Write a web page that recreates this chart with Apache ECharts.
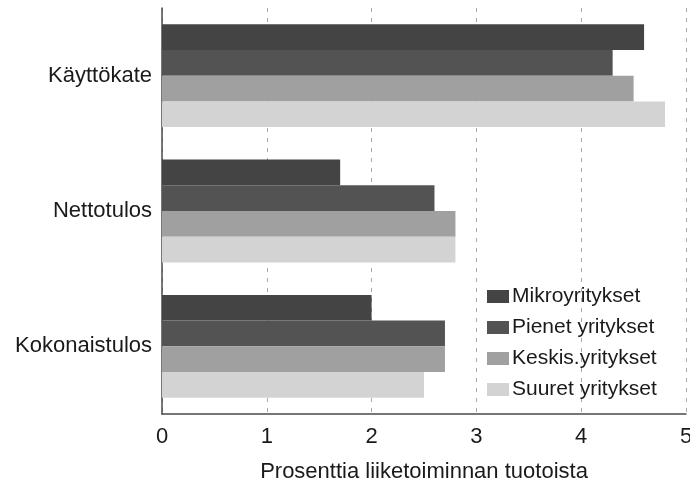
<!DOCTYPE html>
<html>
<head>
<meta charset="utf-8">
<script src="https://cdn.jsdelivr.net/npm/echarts@6/dist/echarts.min.js"></script>
<style>
html,body{margin:0;padding:0;background:#fff;}
#chart{width:690px;height:481px;}
</style>
</head>
<body>
<div id="chart"></div>
<script>
const categories = ['Käyttökate', 'Nettotulos', 'Kokonaistulos'];
const seriesNames = ['Mikroyritykset', 'Pienet yritykset', 'Keskis.yritykset', 'Suuret yritykset'];
const mikro = [4.6, 1.7, 2.0];
const pienet = [4.3, 2.6, 2.7];
const keskis = [4.5, 2.8, 2.7];
const suuret = [4.8, 2.8, 2.5];
const xTicks = [0, 1, 2, 3, 4, 5];
const axisName = 'Prosenttia liiketoiminnan tuotoista';

const colors = ['#444444', '#535353', '#a0a0a0', '#d3d3d3'];
const values = [mikro, pienet, keskis, suuret];
const font = 'Liberation Sans, Arial, sans-serif';

const chart = echarts.init(document.getElementById('chart'), null, {renderer: 'canvas'});
chart.setOption({
  animation: false,
  backgroundColor: '#fff',
  grid: {left: 162, right: 4, top: 8, bottom: 67, containLabel: false, outerBoundsMode: 'none'},
  legend: {
    orient: 'vertical',
    left: 487,
    top: 286,
    padding: 0,
    itemWidth: 22,
    itemHeight: 13,
    itemGap: 10,
    itemStyle: {borderWidth: 0},
    textStyle: {fontFamily: font, fontSize: 21, color: '#1a1a1a', padding: [0, 0, 0, -2]},
    data: seriesNames,
    icon: 'rect'
  },
  xAxis: {
    type: 'value',
    min: xTicks[0],
    max: xTicks[xTicks.length - 1],
    interval: 1,
    name: axisName,
    nameLocation: 'middle',
    nameGap: 47,
    nameTextStyle: {fontFamily: font, fontSize: 22, color: '#1a1a1a'},
    axisLine: {show: true, lineStyle: {color: '#4a4a4a', width: 1.5}},
    axisTick: {show: false},
    axisLabel: {fontFamily: font, fontSize: 22, color: '#1a1a1a', margin: 12,
      formatter: v => xTicks.includes(v) ? String(v) : ''},
    splitLine: {show: true, lineStyle: {color: '#aaa', type: [4, 6], width: 1}}
  },
  yAxis: {
    type: 'category',
    data: categories,
    inverse: true,
    axisLine: {show: true, lineStyle: {color: '#4a4a4a', width: 1.5}},
    axisTick: {show: false},
    axisLabel: {fontFamily: font, fontSize: 22, color: '#1a1a1a', margin: 10},
    splitLine: {show: false}
  },
  series: seriesNames.map((n, i) => ({
    name: n,
    type: 'bar',
    data: values[i],
    barGap: '0%',
    barCategoryGap: '24%',
    itemStyle: {color: colors[i]}
  }))
});
</script>
</body>
</html>
